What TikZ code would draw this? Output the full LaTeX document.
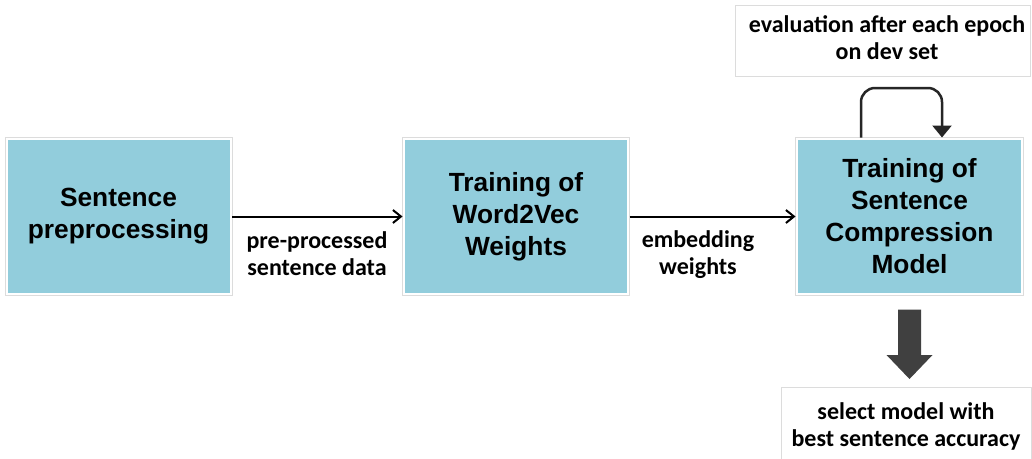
\documentclass[tikz,border=0pt]{standalone}
\usepackage{fontspec}
\usetikzlibrary{arrows.meta,fit,calc}
\newfontfamily\arialfont{Liberation Sans}
\newfontfamily\calibrifont{Carlito}
\definecolor{stageblue}{HTML}{92CDDC}
\definecolor{framegray}{HTML}{DCDCDC}
\definecolor{loopgray}{HTML}{262626}
\definecolor{bigarrowgray}{HTML}{404040}
\tikzset{
  stagebox/.style={fill=stageblue, draw=none, inner sep=0pt, outer sep=0pt,
    minimum width=222pt, minimum height=153pt, align=center,
    font=\arialfont\bfseries\fontsize{26.3}{32}\selectfont},
  stageframe/.style={draw=framegray, line width=0.8pt, inner sep=2.5pt, outer sep=0pt},
  notebox/.style={draw=framegray, line width=0.8pt, fill=white, inner sep=0pt, outer sep=0pt},
  notetext/.style={align=center, inner sep=0pt,
    font=\calibrifont\bfseries\fontsize{24}{27}\selectfont},
  flow/.style={line width=2pt, -{Straight Barb[length=8pt,width=13pt]}},
  evalloop/.style={draw=loopgray, line width=2.5pt, rounded corners=14pt,
    -{Triangle[length=12pt,width=19pt]}},
  bigarrow/.style={fill=bigarrowgray}
}
\begin{document}
\begin{tikzpicture}[x=1pt, y=-1pt]
\useasboundingbox[fill=white] (0,0) rectangle (1032,458);

% the three processing stages
\node[stagebox] (pre) at (118.5,216.5) {Sentence\\preprocessing};
\node[stagebox] (w2v) at (516,216.5) {Training of\\Word2Vec\\Weights};
\node[stagebox, minimum width=223pt] (cmp) at (909.5,216.5) {Training of\\Sentence\\Compression\\Model};
\node[stageframe, fit=(pre)] (preF) {};
\node[stageframe, fit=(w2v)] (w2vF) {};
\node[stageframe, fit=(cmp)] (cmpF) {};

% data passed between stages
\draw[flow] (preF.east) -- (w2vF.west);
\draw[flow] (w2vF.east) -- (cmpF.west);
\node[notetext] (lblA) at (317,254) {pre-processed\\sentence data};
\node[notetext] (lblB) at (698,255) {embedding\\weights};

% evaluation loop
\node[notebox, minimum width=295pt, minimum height=71pt] (eval) at (882.5,40.5) {};
\node[notetext] (evalT) at (887,38) {evaluation after each epoch\\on dev set};
\draw[evalloop] ([xshift=-48.5pt]cmpF.north) -- ++(0,-49.5) -| ([xshift=32.5pt]cmpF.north);

% final model selection
\node[notebox, notetext, minimum width=250pt, minimum height=78pt] (sel) at (906,426) {select model with\\best sentence accuracy};
\coordinate (dtop) at ([yshift=-14pt]cmpF.south);
\coordinate (dtip) at ($(sel.north -| dtop)+(0,-8)$);
\fill[bigarrow] ($(dtop)+(-11.5,0)$) -- ($(dtop)+(11.5,0)$) -- ($(dtip)+(11.5,-24)$)
  -- ($(dtip)+(23,-24)$) -- (dtip) -- ($(dtip)+(-23,-24)$) -- ($(dtip)+(-11.5,-24)$) -- cycle;
\end{tikzpicture}
\end{document}
